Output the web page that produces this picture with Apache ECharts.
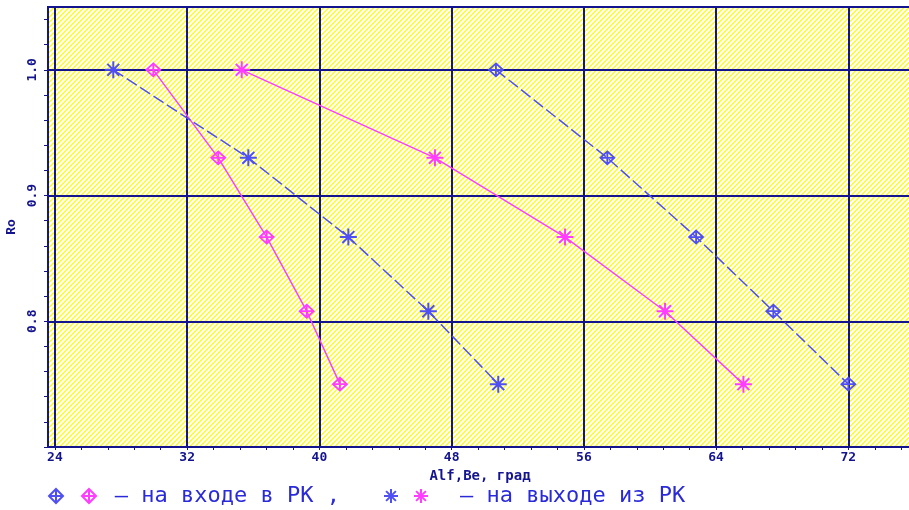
<!DOCTYPE html>
<html><head><meta charset="utf-8">
<script src="https://cdn.jsdelivr.net/npm/echarts@6/dist/echarts.min.js"></script>
<style>html,body{margin:0;padding:0;background:#fff}#c{width:909px;height:510px}</style>
</head><body><div id="c"></div>
<script>
// ---- data ----
const yLevels   = [1.0, 0.93, 0.867, 0.808, 0.75];
const blueInX   = [50.68, 57.42, 62.79, 67.46, 72.00]; // blue diamonds (на входе)
const pinkInX   = [29.95, 33.88, 36.81, 39.23, 41.24]; // magenta diamonds (на входе)
const blueOutX  = [27.53, 35.70, 41.75, 46.59, 50.82]; // blue asterisks (на выходе)
const pinkOutX  = [35.30, 46.99, 54.86, 60.91, 65.65]; // magenta asterisks (на выходе)
const xTickLabels = [24, 32, 40, 48, 56, 64, 72];
const yTickLabels = [0.8, 0.9, 1.0];
const xName = 'Alf,Be, град';
const yName = 'Ro';
const inText  = ' \u2013 на входе в РК ,';
const outText = '  \u2013 на выходе из РК';

// ---- styling ----
const NAVY = '#14148f';
const BLUE = '#5050f2';
const PINK = '#ff3cff';
const LEG = '#2a2ad8';
const X_MIN = 23.58, X_MAX = 75.85, Y_MIN = 0.7, Y_MAX = 1.05;
const DIAMOND = 'path://M0,-1L1,0L0,1L-1,0ZM0,-1L0,1M-1,0L1,0';
const STAR = 'path://M-1,0L1,0M0,-1L0,1M-0.7,-0.7L0.7,0.7M-0.7,0.7L0.7,-0.7';

const xMinor = []; for (let i = 0; i <= 32; i++) xMinor.push(Math.round((24 + 1.6 * i) * 100) / 100);
const yMinor = []; for (let i = 0; i <= 17; i++) yMinor.push(Math.round((0.7 + 0.02 * i) * 1000) / 1000);

function hatch() {
  const c = document.createElement('canvas'); c.width = 5; c.height = 5;
  const g = c.getContext('2d'); g.fillStyle = '#ffffff'; g.fillRect(0, 0, 5, 5);
  g.fillStyle = '#ffff2a';
  for (let y = 0; y < 5; y++) for (let x = 0; x < 5; x++) if ((x + y) % 5 < 2) g.fillRect(x, y, 1, 1);
  return c;
}
const zip = xs => xs.map((x, i) => [x, yLevels[i]]);
const labelFont = {color: NAVY, fontSize: 13, fontWeight: 'bold', fontFamily: 'DejaVu Sans Mono'};

function mk(name, xs, symbol, size, color, dashed, bw) {
  return {name, type: 'line', data: zip(xs), symbol, symbolSize: size,
    itemStyle: {color: 'rgba(0,0,0,0)', borderColor: color, borderWidth: bw},
    lineStyle: {color, width: 1.5, type: dashed ? [12, 4] : 'solid'},
    emphasis: {disabled: true}, z: 5};
}
const legItem = (name, icon, color) => ({name, icon, itemStyle: {color: 'rgba(0,0,0,0)', borderColor: color, borderWidth: 2}});
const legendTexts = {bIn: '', pIn: inText, bOut: '', pOut: outText};
const legText = {fontSize: 22, color: LEG, fontFamily: 'DejaVu Sans Mono'};

const chart = echarts.init(document.getElementById('c'), null, {renderer: 'canvas'});
chart.setOption({
  animation: false,
  backgroundColor: '#ffffff',
  grid: {left: 48, right: -3, top: 7, bottom: 63, containLabel: false, outerBoundsMode: 'none',
         show: true, borderColor: NAVY, borderWidth: 2,
         backgroundColor: {image: hatch(), repeat: 'repeat'}},
  xAxis: [
    {type: 'value', min: X_MIN, max: X_MAX, position: 'bottom',
     axisLine: {show: true, onZero: false, lineStyle: {color: NAVY, width: 2}},
     axisTick: {show: true, customValues: xMinor, length: 3, lineStyle: {color: NAVY, width: 1}},
     axisLabel: Object.assign({customValues: xTickLabels, margin: 4}, labelFont),
     splitLine: {show: false},
     name: xName, nameLocation: 'middle', nameGap: 15, nameTextStyle: Object.assign({}, labelFont, {fontSize: 14})},
    {type: 'value', min: X_MIN, max: X_MAX, position: 'bottom',
     axisLine: {show: false}, axisTick: {show: false, customValues: xTickLabels}, axisLabel: {show: false},
     splitLine: {show: true, lineStyle: {color: NAVY, width: 2}}}
  ],
  yAxis: [
    {type: 'value', min: Y_MIN, max: Y_MAX, position: 'left',
     axisLine: {show: true, onZero: false, lineStyle: {color: NAVY, width: 2}},
     axisTick: {show: true, customValues: yMinor, length: 4, lineStyle: {color: NAVY, width: 1}},
     axisLabel: Object.assign({customValues: yTickLabels, rotate: 90, margin: 9, formatter: v => v.toFixed(1)}, labelFont),
     splitLine: {show: false},
     name: yName, nameLocation: 'middle', nameGap: 24, nameTextStyle: labelFont},
    {type: 'value', min: Y_MIN, max: Y_MAX, position: 'left',
     axisLine: {show: false}, axisTick: {show: false, customValues: yTickLabels}, axisLabel: {show: false},
     splitLine: {show: true, lineStyle: {color: NAVY, width: 2}}}
  ],
  legend: [
    {left: 43, top: 480, itemWidth: 15, itemHeight: 14, itemGap: 17, selectedMode: false,
     data: [legItem('bIn', DIAMOND, BLUE), legItem('pIn', DIAMOND, PINK)],
     formatter: n => legendTexts[n], textStyle: legText},
    {left: 378, top: 480, itemWidth: 15, itemHeight: 14, itemGap: 14, selectedMode: false,
     data: [legItem('bOut', STAR, BLUE), legItem('pOut', STAR, PINK)],
     formatter: n => legendTexts[n], textStyle: legText}
  ],
  series: [
    mk('bIn', blueInX, DIAMOND, [14, 13], BLUE, true, 1.8),
    mk('pIn', pinkInX, DIAMOND, [14, 13], PINK, false, 1.8),
    mk('bOut', blueOutX, STAR, 17, BLUE, true, 2),
    mk('pOut', pinkOutX, STAR, 17, PINK, false, 2)
  ]
});
</script></body></html>
